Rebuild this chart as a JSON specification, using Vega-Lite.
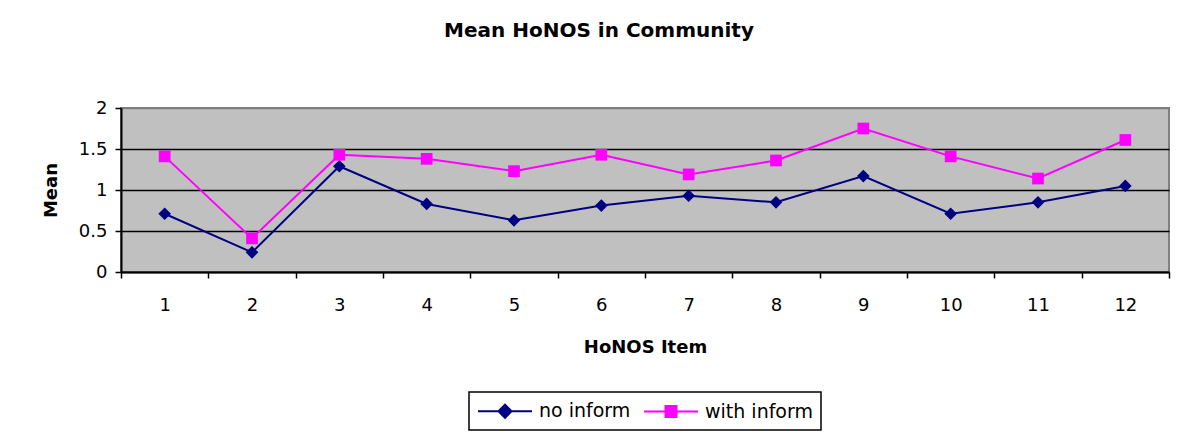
{
  "$schema": "https://vega.github.io/schema/vega-lite/v6.json",
  "width": 1048,
  "height": 164,
  "autosize": {"type": "none"},
  "padding": {"left": 121, "top": 108, "right": 8, "bottom": 166},
  "background": "white",
  "title": {
    "text": "Mean HoNOS in Community",
    "font": "DejaVu Sans",
    "fontSize": 20,
    "fontWeight": "bold",
    "color": "black",
    "anchor": "middle",
    "dx": -46,
    "baseline": "alphabetic",
    "offset": 42
  },
  "config": {
    "view": {"stroke": "#808080", "strokeWidth": 2, "fill": "#C0C0C0"},
    "font": "DejaVu Sans"
  },
  "data": {
    "values": [
      {"item": 1, "series": "no inform", "mean": 0.71},
      {"item": 2, "series": "no inform", "mean": 0.24},
      {"item": 3, "series": "no inform", "mean": 1.29},
      {"item": 4, "series": "no inform", "mean": 0.83},
      {"item": 5, "series": "no inform", "mean": 0.63},
      {"item": 6, "series": "no inform", "mean": 0.81},
      {"item": 7, "series": "no inform", "mean": 0.93},
      {"item": 8, "series": "no inform", "mean": 0.85},
      {"item": 9, "series": "no inform", "mean": 1.17},
      {"item": 10, "series": "no inform", "mean": 0.71},
      {"item": 11, "series": "no inform", "mean": 0.85},
      {"item": 12, "series": "no inform", "mean": 1.05},
      {"item": 1, "series": "with inform", "mean": 1.41},
      {"item": 2, "series": "with inform", "mean": 0.41},
      {"item": 3, "series": "with inform", "mean": 1.43},
      {"item": 4, "series": "with inform", "mean": 1.38},
      {"item": 5, "series": "with inform", "mean": 1.23},
      {"item": 6, "series": "with inform", "mean": 1.43},
      {"item": 7, "series": "with inform", "mean": 1.19},
      {"item": 8, "series": "with inform", "mean": 1.36},
      {"item": 9, "series": "with inform", "mean": 1.75},
      {"item": 10, "series": "with inform", "mean": 1.41},
      {"item": 11, "series": "with inform", "mean": 1.14},
      {"item": 12, "series": "with inform", "mean": 1.61}
    ]
  },
  "encoding": {
    "x": {
      "field": "item",
      "type": "ordinal",
      "title": "HoNOS Item",
      "scale": {"type": "band", "paddingInner": 0, "paddingOuter": 0},
      "axis": {
        "labelAngle": 0,
        "tickBand": "extent",
        "tickSize": 6,
        "tickWidth": 1.5,
        "tickColor": "black",
        "domainColor": "black",
        "domainWidth": 2,
        "labelFont": "DejaVu Sans",
        "labelFontSize": 18,
        "labelColor": "black",
        "labelPadding": 18,
        "titleFont": "DejaVu Sans",
        "titleFontSize": 18,
        "titleFontWeight": "bold",
        "titleColor": "black",
        "titlePadding": 24
      }
    },
    "y": {
      "field": "mean",
      "type": "quantitative",
      "title": "Mean",
      "scale": {"domain": [0, 2], "nice": false, "zero": true},
      "axis": {
        "values": [0, 0.5, 1, 1.5, 2],
        "format": ".1~f",
        "grid": true,
        "gridColor": {"condition": {"test": "datum.value === 2", "value": "#808080"}, "value": "black"},
        "gridWidth": 1.5,
        "gridOpacity": 1,
        "tickSize": 6,
        "tickWidth": 1.5,
        "tickColor": "black",
        "domainColor": "black",
        "domainWidth": 2,
        "labelFont": "DejaVu Sans",
        "labelFontSize": 18,
        "labelColor": "black",
        "labelPadding": 8,
        "titleFont": "DejaVu Sans",
        "titleFontSize": 18,
        "titleFontWeight": "bold",
        "titleColor": "black",
        "titlePadding": 18
      }
    },
    "color": {
      "field": "series",
      "type": "nominal",
      "scale": {"domain": ["no inform", "with inform"], "range": ["#000080", "#FF00FF"]},
      "legend": {
        "title": null,
        "orient": "none",
        "legendX": 348,
        "legendY": 284,
        "direction": "horizontal",
        "columns": 2,
        "strokeColor": "black",
        "fillColor": "white",
        "padding": 8,
        "symbolSize": 400,
        "symbolOffset": 17,
        "symbolStrokeWidth": 2,
        "labelFont": "DejaVu Sans",
        "labelFontSize": 19,
        "labelColor": "black",
        "labelOffset": 23,
        "columnPadding": 9,
        "encode": {
          "legend": {"update": {"strokeWidth": {"value": 1.5}}},
          "symbols": {
            "update": {
              "shape": {"signal": "datum.value === 'no inform' ? 'M-2.7,0H2.7M0,-0.65L0.65,0L0,0.65L-0.65,0Z' : 'M-2.7,0H2.7M-0.55,-0.55H0.55V0.55H-0.55Z'"},
              "strokeWidth": {"value": 2},
              "fill": {"scale": "color", "field": "value"},
              "stroke": {"scale": "color", "field": "value"},
              "fillOpacity": {"value": 1},
              "strokeOpacity": {"value": 1}
            }
          }
        }
      }
    }
  },
  "layer": [
    {"mark": {"type": "line", "strokeWidth": 2}},
    {
      "transform": [{"filter": "datum.series === 'no inform'"}],
      "mark": {"type": "point", "filled": true, "size": 160, "opacity": 1, "shape": "diamond"}
    },
    {
      "transform": [{"filter": "datum.series === 'with inform'"}],
      "mark": {"type": "point", "filled": true, "size": 137, "opacity": 1, "shape": "square"}
    }
  ]
}
